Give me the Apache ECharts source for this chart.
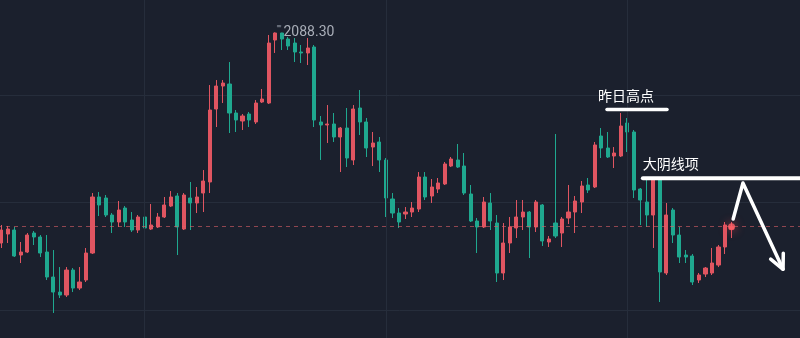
<!DOCTYPE html>
<html>
<head>
<meta charset="utf-8">
<script src="https://cdn.jsdelivr.net/npm/echarts/dist/echarts.min.js"></script>
<style>
html,body{margin:0;padding:0;background:#1b202d;}
#c{width:800px;height:338px;}
</style>
</head>
<body>
<div id="c"></div>
<script>
// ---------- data ----------
const categories = Array.from({length: 123}, (_, i) => 'K' + (i + 1));

const opens = [
2033.45,2035.79,2036.83,2030.32,2031.10,2036.05,2035.01,2031.10,2024.59,2020.68,
2019.90,2026.41,2021.72,2023.81,2030.84,2045.43,2045.17,2040.74,2038.92,2042.56,
2039.44,2036.83,2040.22,2037.09,2037.62,2040.22,2043.08,2045.69,2037.09,2045.17,
2043.87,2046.47,2049.34,2068.35,2074.34,2074.86,2067.31,2065.23,2067.05,2064.97,
2070.17,2069.91,2086.32,2088.15,2086.58,2085.54,2083.20,2082.94,2084.50,2064.97,
2064.19,2064.45,2061.06,2063.40,2055.07,2068.61,2064.97,2058.45,2059.76,2055.07,
2044.91,2041.26,2041.00,2041.52,2042.30,2050.64,2045.69,2047.51,2048.82,2053.50,
2055.07,2053.50,2046.21,2039.18,2037.62,2043.87,2038.66,2025.63,2033.45,2037.36,
2040.22,2041.52,2037.62,2043.35,2033.71,2038.66,2036.05,2039.96,2041.52,2044.13,
2048.56,2048.04,2061.32,2058.19,2056.11,2056.11,2064.71,2062.36,2047.51,2044.13,
2040.74,2049.86,2025.63,2042.04,2035.53,2030.32,2030.06,2023.81,2025.37,2025.63,
2027.71,2032.41,2037.09];

const closes = [
2036.83,2037.09,2030.06,2031.10,2035.53,2035.01,2030.84,2024.59,2020.68,2019.90,
2026.41,2021.72,2023.29,2030.84,2045.43,2043.35,2040.74,2038.92,2042.04,2038.92,
2036.83,2040.22,2037.36,2038.14,2040.22,2043.35,2045.43,2037.62,2045.95,2043.87,
2045.43,2049.60,2068.09,2074.34,2075.12,2067.31,2065.49,2066.53,2065.49,2069.91,
2070.95,2085.54,2088.15,2086.58,2084.76,2083.20,2082.94,2084.24,2065.49,2064.19,
2064.45,2061.06,2063.40,2055.59,2068.35,2064.97,2058.19,2059.50,2055.07,2045.17,
2041.26,2038.92,2041.52,2042.56,2050.64,2045.43,2048.04,2049.08,2054.03,2055.33,
2053.24,2046.47,2039.18,2037.62,2044.13,2039.18,2025.63,2033.45,2037.62,2040.22,
2041.52,2037.62,2044.13,2033.97,2034.49,2035.27,2039.70,2041.52,2044.39,2048.30,
2047.25,2058.98,2058.19,2055.85,2056.89,2063.92,2062.36,2047.25,2044.65,2040.74,
2049.86,2025.89,2040.74,2035.53,2029.80,2029.80,2023.29,2025.11,2026.93,2028.24,
2032.41,2038.14,2037.70];

const lows = [
2032.15,2033.45,2029.80,2028.24,2030.84,2032.93,2029.80,2023.81,2015.22,2019.12,
2019.38,2020.68,2021.20,2023.29,2030.58,2040.48,2040.22,2036.05,2037.62,2037.62,
2036.31,2036.05,2036.83,2036.83,2037.36,2039.96,2042.82,2030.32,2036.83,2036.83,
2041.26,2041.52,2046.47,2063.66,2069.91,2062.10,2062.36,2062.88,2063.66,2064.45,
2069.91,2069.65,2082.94,2083.72,2083.72,2080.59,2080.33,2079.81,2063.66,2055.07,
2059.50,2059.76,2051.94,2053.24,2053.76,2061.58,2055.85,2053.50,2051.94,2040.22,
2039.96,2037.36,2039.70,2040.22,2041.52,2044.65,2043.87,2046.47,2048.56,2053.24,
2052.98,2045.95,2038.92,2030.84,2037.36,2036.83,2023.29,2023.81,2030.84,2034.75,
2036.83,2029.54,2036.31,2032.67,2032.41,2034.75,2032.41,2038.40,2036.05,2041.26,
2046.47,2047.77,2055.59,2055.59,2052.98,2055.85,2057.15,2045.17,2038.14,2037.62,
2032.15,2018.08,2025.11,2033.45,2028.24,2028.24,2022.51,2023.03,2024.59,2025.11,
2027.19,2030.58,2034.75];

const highs = [
2038.14,2037.88,2037.62,2033.71,2036.05,2036.57,2035.53,2035.53,2031.62,2027.19,
2027.19,2026.93,2027.19,2032.15,2046.47,2046.73,2045.95,2041.26,2044.39,2043.08,
2041.52,2040.74,2040.74,2043.61,2041.26,2045.43,2046.99,2046.47,2046.47,2049.34,
2048.04,2052.46,2074.60,2075.90,2075.90,2080.59,2068.09,2067.05,2067.57,2070.69,
2073.56,2087.63,2088.30,2088.20,2087.11,2086.84,2085.02,2086.84,2085.02,2066.53,
2069.39,2067.31,2063.66,2068.61,2069.39,2073.30,2066.01,2062.36,2061.06,2055.59,
2046.47,2042.56,2042.82,2044.13,2051.94,2051.94,2050.12,2050.38,2054.55,2055.85,
2059.24,2056.89,2048.56,2039.96,2045.43,2046.47,2040.74,2038.66,2040.22,2044.65,
2044.65,2041.78,2044.65,2043.61,2035.27,2061.84,2040.22,2048.56,2045.69,2049.60,
2050.38,2059.76,2063.40,2062.36,2058.45,2067.31,2066.01,2062.88,2047.77,2050.38,
2050.12,2050.12,2043.87,2042.56,2037.62,2031.62,2030.58,2025.63,2027.19,2032.15,
2032.93,2038.92,2038.92];

// annotations (data space: category index, price)
const yHighLabel = '昨日高点';
const yHighLevel = 2068.2;
const yHighSpan = [92.9, 102.1];
const bigBearLabel = '大阴线项';
const bigBearLevel = 2050.3;
const bigBearSpan = [98.4, 122.6];
const arrowPath = [[112.25, 2039.7], [113.75, 2049.1], [119.9, 2026.6]];
const vGridIdx = [22, 59, 96];

// ---------- styles ----------
const BG = '#1b202d';
const GRID = '#262d3b';
const UP = '#e05561';
const DOWN = '#1fa88f';

const candleData = opens.map((o, i) => [o, closes[i], lows[i], highs[i]]);
const last = closes.length - 1;

const chart = echarts.init(document.getElementById('c'), null, {renderer: 'canvas'});
chart.setOption({
  backgroundColor: BG,
  animation: false,
  grid: {left: -2, right: 0, top: -12.5, bottom: -79.5, containLabel: false, outerBoundsMode: 'none'},
  xAxis: {
    type: 'category', data: categories, boundaryGap: true,
    axisLine: {show: false}, axisTick: {show: false}, axisLabel: {show: false},
    splitLine: {show: false}
  },
  yAxis: {
    type: 'value', min: 1988, max: 2100, interval: 28,
    axisLine: {show: false}, axisTick: {show: false}, axisLabel: {show: false},
    splitLine: {show: true, lineStyle: {color: GRID, width: 1}}
  },
  series: [
    {
      type: 'line', data: [], z: 1, silent: true,
      markLine: {
        silent: true, symbol: ['none', 'none'], label: {show: false},
        lineStyle: {color: GRID, type: 'solid', width: 1},
        emphasis: {disabled: true},
        data: vGridIdx.map(i => ({xAxis: categories[i]}))
      }
    },
    {
      type: 'candlestick', z: 2,
      data: candleData,
      barWidth: 3.6,
      itemStyle: {color: UP, color0: DOWN, borderColor: UP, borderColor0: DOWN, borderWidth: 1},
      markLine: {
        silent: true, symbol: ['none', 'none'], label: {show: false},
        lineStyle: {color: 'rgba(224,96,104,0.6)', type: [4, 4], width: 1},
        data: [{yAxis: closes[last]}]
      },
      markPoint: {
        symbol: 'circle', symbolSize: 1,
        itemStyle: {color: 'rgba(0,0,0,0)'},
        label: {
          show: true, position: 'right', distance: 1,
          formatter: p => "{d|''''}{v|" + Number(p.value).toFixed(2) + '}',
          rich: {
            d: {color: '#8d93a0', fontSize: 9, fontFamily: 'Roboto', padding: [0, 2, 6, 0]},
            v: {color: '#a9aeb8', fontSize: 14, fontFamily: 'Roboto'}
          }
        },
        data: [{type: 'max', valueDim: 'highest'}]
      }
    },
    {
      type: 'scatter', z: 5,
      data: [[last, closes[last]]],
      symbolSize: 7,
      itemStyle: {color: '#ff6066', shadowBlur: 10, shadowColor: 'rgba(255,70,80,0.95)'}
    }
  ]
});

function px(i, v) {
  const a = chart.convertToPixel({gridIndex: 0}, [0, v]);
  const b = chart.convertToPixel({gridIndex: 0}, [1, v]);
  return [a[0] + i * (b[0] - a[0]), a[1]];
}

const h1a = px(yHighSpan[0], yHighLevel), h1b = px(yHighSpan[1], yHighLevel);
const h2a = px(bigBearSpan[0], bigBearLevel), h2b = px(bigBearSpan[1], bigBearLevel);
const pts = arrowPath.map(p => px(p[0], p[1]));
const tip = pts[pts.length - 1], prev = pts[pts.length - 2];
const ang = Math.atan2(prev[1] - tip[1], prev[0] - tip[0]);
const L = 16, spread = 0.45;
const arm1 = [tip[0] + L * Math.cos(ang + spread), tip[1] + L * Math.sin(ang + spread)];
const arm2 = [tip[0] + L * Math.cos(ang - spread), tip[1] + L * Math.sin(ang - spread)];
const white = '#ffffff';
const txtFont = '"Noto Sans CJK SC", sans-serif';

chart.setOption({
  graphic: [
    {type: 'line', z: 10, shape: {x1: h1a[0], y1: h1a[1], x2: h1b[0], y2: h1b[1]},
      style: {stroke: white, lineWidth: 3.5, lineCap: 'round'}},
    {type: 'text', z: 10, x: h1a[0] - 9, y: h1a[1] - 14,
      style: {text: yHighLabel, fill: white, fontSize: 14, fontFamily: txtFont,
        align: 'left', verticalAlign: 'middle', textAlign: 'left', textVerticalAlign: 'middle'}},
    {type: 'line', z: 10, shape: {x1: h2a[0], y1: h2a[1], x2: h2b[0], y2: h2b[1]},
      style: {stroke: white, lineWidth: 4, lineCap: 'round'}},
    {type: 'text', z: 10, x: h2a[0], y: h2a[1] - 15,
      style: {text: bigBearLabel, fill: white, fontSize: 14, fontFamily: txtFont,
        align: 'left', verticalAlign: 'middle', textAlign: 'left', textVerticalAlign: 'middle'}},
    {type: 'polyline', z: 10, shape: {points: pts},
      style: {stroke: white, fill: null, lineWidth: 3.5, lineCap: 'round', lineJoin: 'round'}},
    {type: 'polyline', z: 10, shape: {points: [arm1, tip, arm2]},
      style: {stroke: white, fill: null, lineWidth: 3.5, lineCap: 'round', lineJoin: 'round'}}
  ]
});
</script>
</body>
</html>
